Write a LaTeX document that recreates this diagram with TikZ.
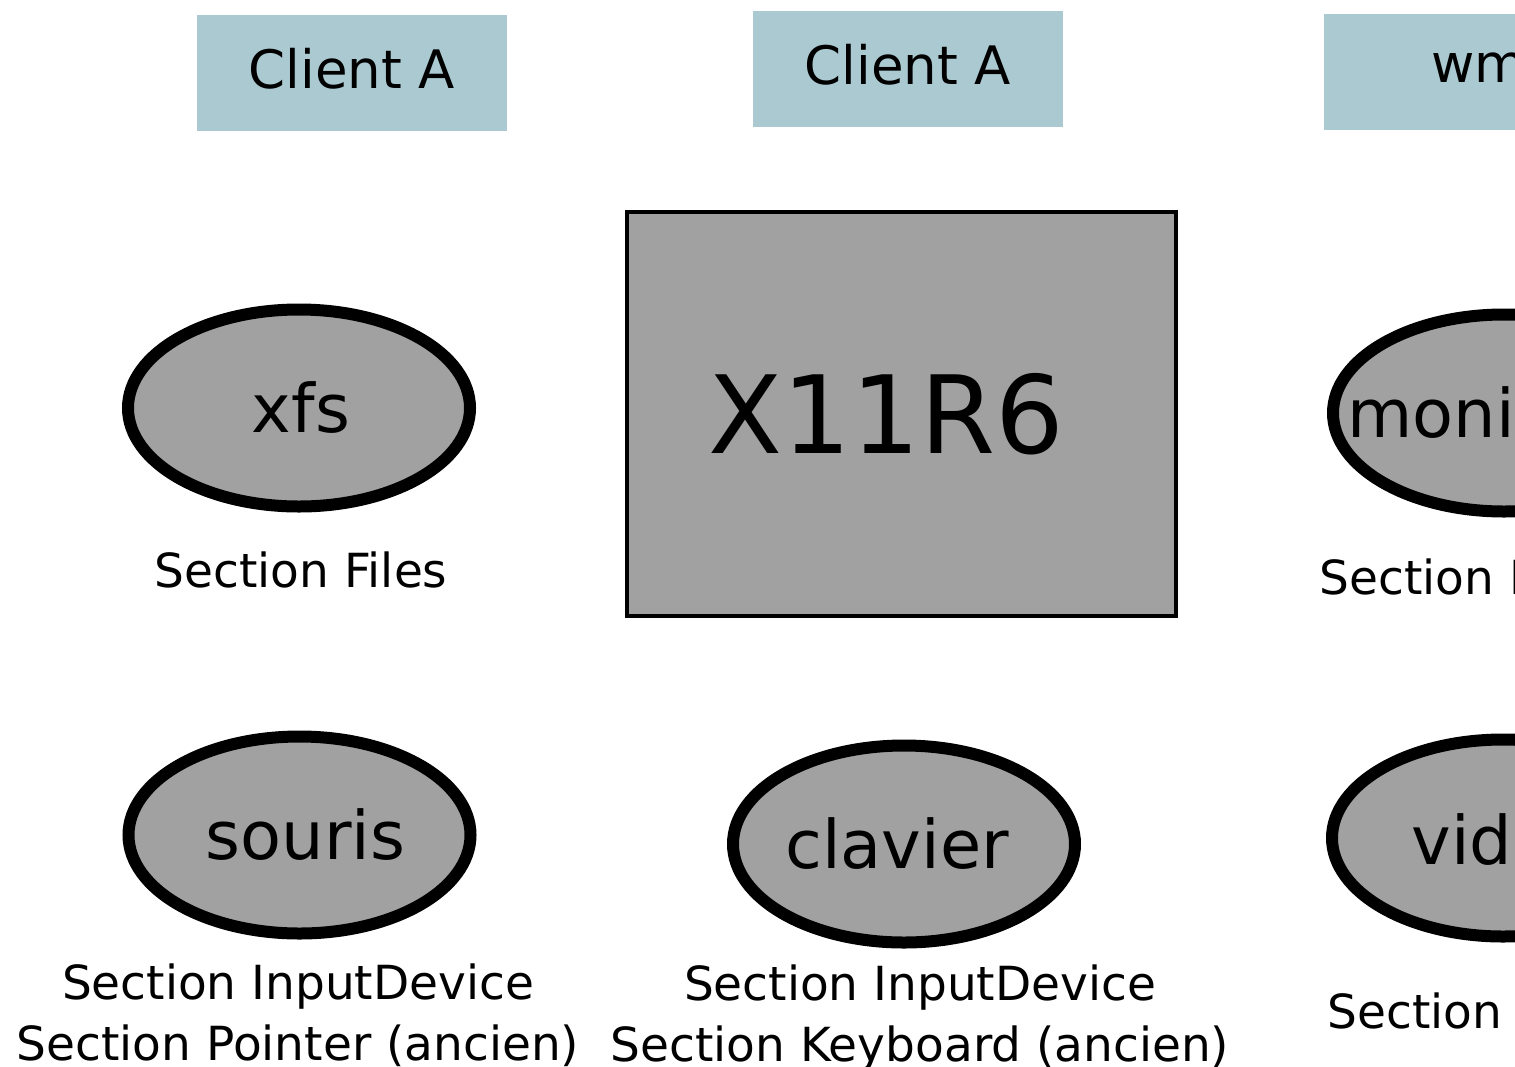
\documentclass[tikz,border=0pt]{standalone}
\usepackage{fontspec}
\setmainfont{DejaVu Sans}
\usetikzlibrary{shapes.geometric}
\definecolor{clientblue}{RGB}{170,201,209}
\definecolor{nodegray}{RGB}{161,161,161}
\begin{document}
\begin{tikzpicture}[x=1pt,y=-1pt,
  client/.style={rectangle, fill=clientblue, draw=none, minimum width=310pt, minimum height=116pt, inner sep=0pt},
  clienttext/.style={font=\fontsize{53}{60}\selectfont, yshift=4pt},
  oval/.style={ellipse, fill=nodegray, draw=black, line width=12pt, minimum width=342pt, minimum height=197pt, inner sep=0pt},
  ovaltext/.style={font=\fontsize{67}{75}\selectfont},
  bigbox/.style={rectangle, fill=nodegray, draw=black, line width=4pt, minimum width=549pt, minimum height=404pt, inner sep=0pt},
  sect/.style={anchor=base, align=center, inner sep=0pt, font=\fontsize{47}{61}\selectfont}]
\useasboundingbox (0,0) rectangle (1515,1066);
\clip (0,0) rectangle (1515,1066);
\fill[white] (0,0) rectangle (1515,1066);
% top clients
\node[client, label={[clienttext]center:Client A}] (c1) at (352,73) {};
\node[client, label={[clienttext]center:Client A}] (c2) at (908,69) {};
\node[client, label={[clienttext]center:wm}] (c3) at (1479,71.5) {};
% middle row
\node[oval, label={[ovaltext, xshift=2pt]center:xfs}] (xfs) at (299,408) {};
\node[sect] (xfsl) at (301,587) {Section Files};
\node[bigbox, label={[xshift=-15pt, font=\fontsize{108}{120}\selectfont]center:X11R6}] (x11) at (901.5,414) {};
\node[oval, label={[ovaltext, xshift=-4pt]center:moniteur}] (moni) at (1504,413) {};
\node[sect] (monil) at (1504,594) {Section Monitor};
% bottom row
\node[oval, label={[ovaltext, xshift=6pt]center:souris}] (souris) at (299.5,835) {};
\node[sect] (sourisl) at (298,1060) {Section InputDevice\\Section Pointer (ancien)};
\node[oval, label={[ovaltext, xshift=-7pt]center:clavier}] (clavier) at (904,844) {};
\node[sect] (clavierl) at (920,1061) {Section InputDevice\\Section Keyboard (ancien)};
\node[oval, label={[ovaltext]center:vidéo}] (video) at (1503,838) {};
\node[sect] (videol) at (1503,1028) {Section Device};
\end{tikzpicture}
\end{document}
